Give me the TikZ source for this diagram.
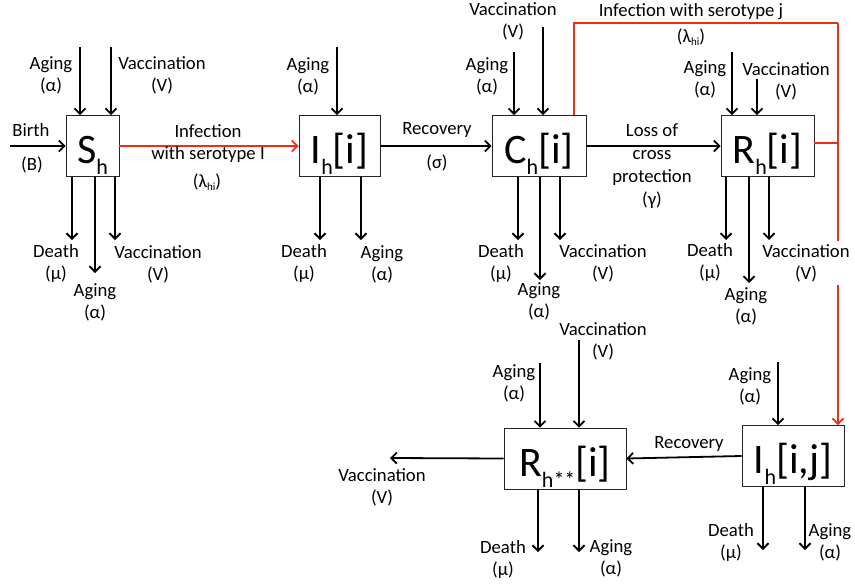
\documentclass[tikz,border=0pt]{standalone}
\usepackage{fontspec}
\setmainfont{Carlito}
\usetikzlibrary{arrows.meta}
\definecolor{redline}{RGB}{240,45,20}
\newcommand\subh[1]{\raisebox{-11pt}{\fontsize{22}{22}\selectfont #1}}
\newcommand\lam{(λ\raisebox{-3pt}{\fontsize{11}{11}\selectfont hi})}
\begin{document}
\begin{tikzpicture}[x=1pt,y=-1pt,
  lab/.style={font=\fontsize{18.7}{22}\selectfont,align=center,inner sep=0pt},
  box/.style={draw=black!85,line width=0.8pt,fill=white,inner sep=0pt,
    minimum height=61pt,text height=48pt,text depth=13pt,
    font=\fontsize{42}{42}\selectfont},
  arr/.style={line width=1.8pt,-{Straight Barb[length=5.5pt,width=11pt]}},
  rarr/.style={line width=1.8pt,draw=redline,-{Straight Barb[length=5.5pt,width=11pt]}},
  rline/.style={line width=1.8pt,draw=redline}]
\useasboundingbox (0,0) rectangle (855,587);
% boxes
\node[box,minimum width=53pt] (S) at (92.5,146) {S\subh{h}};
\node[box,minimum width=81pt] (I) at (339.5,146) {I\subh{h}[i]};
\node[box,minimum width=94pt] (C) at (539,146) {C\subh{h}[i]};
\node[box,minimum width=93pt] (R) at (767.5,146) {R\subh{h}[i]};
\node[box,minimum width=102pt,minimum height=60pt] (Iij) at (793,456) {I\subh{h}[i,j]};
\node[box,minimum width=122pt] (Rs) at (565,458.5) {R\subh{h**}[i]};
% coordinates of free ends
\coordinate (b0) at (10,146);
\coordinate (s1) at (80,47); \coordinate (s2) at (111,47);
\coordinate (s3) at (72,240); \coordinate (s4) at (95,273); \coordinate (s5) at (115,240);
\coordinate (i1) at (337,47); \coordinate (i2) at (320,240); \coordinate (i3) at (361,240);
\coordinate (c1) at (514,52); \coordinate (c2) at (543,27);
\coordinate (c3) at (518,240); \coordinate (c4) at (540,280); \coordinate (c5) at (560,240);
\coordinate (q1) at (732,52); \coordinate (q2) at (757,79);
\coordinate (q3) at (726,240); \coordinate (q4) at (749,283); \coordinate (q5) at (769,240);
\coordinate (r1) at (574,23); \coordinate (r2) at (838,23); \coordinate (r3) at (838,143);
\coordinate (j1) at (778,362); \coordinate (j2) at (763,550); \coordinate (j3) at (805,550);
\coordinate (k1) at (540,363); \coordinate (k2) at (579,340); \coordinate (k3) at (390,458);
\coordinate (k4) at (538,552); \coordinate (k5) at (579,552);
% red connectors
\draw[rarr] (S.east) -- (I.west);
\draw[rline] (C.north -| r1) -- (r1) -- (r2);
\draw[rarr] (r2) -- (r2 |- Iij.north);
\draw[rline] (R.east |- r3) -- (r3);
% black connectors
\draw[arr] (b0) -- (b0 -| S.west);
\draw[arr] (s1) -- (s1 |- S.north);
\draw[arr] (s2) -- (s2 |- S.north);
\draw[arr] (S.south -| s3) -- (s3);
\draw[arr] (S.south -| s4) -- (s4);
\draw[arr] (S.south -| s5) -- (s5);
\draw[arr] (i1) -- (i1 |- I.north);
\draw[arr] (I.south -| i2) -- (i2);
\draw[arr] (I.south -| i3) -- (i3);
\draw[arr] (I.east) -- (C.west);
\draw[arr] (c1) -- (c1 |- C.north);
\draw[arr] (c2) -- (c2 |- C.north);
\draw[arr] (C.south -| c3) -- (c3);
\draw[arr] (C.south -| c4) -- (c4);
\draw[arr] (C.south -| c5) -- (c5);
\draw[arr] (C.east) -- (R.west);
\draw[arr] (q1) -- (q1 |- R.north);
\draw[arr] (q2) -- (q2 |- R.north);
\draw[arr] (R.south -| q3) -- (q3);
\draw[arr] (R.south -| q4) -- (q4);
\draw[arr] (R.south -| q5) -- (q5);
\draw[arr] (j1) -- (j1 |- Iij.north);
\draw[arr] (Iij.south -| j2) -- (j2);
\draw[arr] (Iij.south -| j3) -- (j3);
\draw[arr] (Iij.west) -- (Rs.east);
\draw[arr] (k1) -- (k1 |- Rs.north);
\draw[arr] (k2) -- (k2 |- Rs.north);
\draw[arr] (Rs.west) -- (k3);
\draw[arr] (Rs.south -| k4) -- (k4);
\draw[arr] (Rs.south -| k5) -- (k5);
% labels
\node[lab] (l1) at (31,130) {Birth};
\node[lab] (l2) at (32,165) {(B)};
\node[lab] (l3) at (51,75) {Aging\\(α)};
\node[lab] (l4) at (162,75) {Vaccination\\(V)};
\node[lab] (l5) at (56,264) {Death\\(μ)};
\node[lab] (l6) at (95,302) {Aging\\(α)};
\node[lab] (l7) at (158,264) {Vaccination\\(V)};
\node[lab] (l8) at (208,144) {Infection\\with serotype I};
\node[lab] (l9) at (207,182) {\lam};
\node[lab] (l10) at (308,76) {Aging\\(α)};
\node[lab] (l11) at (304,264) {Death\\(μ)};
\node[lab] (l12) at (382,264) {Aging\\(α)};
\node[lab] (l13) at (437,130) {Recovery};
\node[lab] (l14) at (437,163) {(σ)};
\node[lab] (l15) at (513,21) {Vaccination\\(V)};
\node[lab] (l16) at (487,76) {Aging\\(α)};
\node[lab] (l17) at (501,264) {Death\\(μ)};
\node[lab] (l18) at (539,301) {Aging\\(α)};
\node[lab] (l19) at (603,263) {Vaccination\\(V)};
\node[lab,font=\fontsize{18.7}{23}\selectfont] (l20) at (652,166) {Loss of\\cross\\protection\\(γ)};
\node[lab] (l21) at (705,79) {Aging\\(α)};
\node[lab] (l22) at (786,81) {Vaccination\\(V)};
\node[lab] (l23) at (710,263) {Death\\(μ)};
\node[lab] (l24) at (746,306) {Aging\\(α)};
\node[lab,fill=white,inner sep=3pt] (l25) at (806,263) {Vaccination\\(V)};
\node[lab] (l26) at (691,12) {Infection with serotype j};
\node[lab] (l27) at (691,37) {\lam};
\node[lab] (l28) at (750,386) {Aging\\(α)};
\node[lab] (l29) at (731,543) {Death\\(μ)};
\node[lab] (l30) at (830,542) {Aging\\(α)};
\node[lab] (l31) at (689,444) {Recovery};
\node[lab] (l32) at (603,341) {Vaccination\\(V)};
\node[lab] (l33) at (514,383) {Aging\\(α)};
\node[lab] (l34) at (382,487) {Vaccination\\(V)};
\node[lab] (l35) at (503,560) {Death\\(μ)};
\node[lab] (l36) at (611,558) {Aging\\(α)};
\end{tikzpicture}
\end{document}
